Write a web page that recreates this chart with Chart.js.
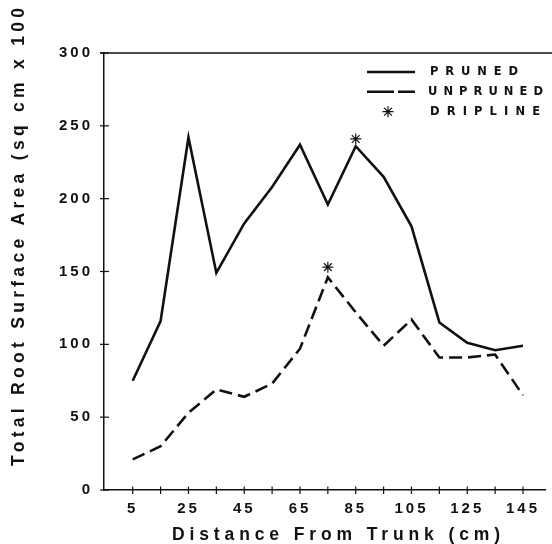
<!DOCTYPE html>
<html>
<head>
<meta charset="utf-8">
<script src="https://cdn.jsdelivr.net/npm/chart.js@4.4.1/dist/chart.umd.min.js"></script>
<style>
  html, body { margin: 0; padding: 0; background: #ffffff; }
  #wrap { position: relative; width: 552px; height: 544px; }
  canvas { display: block; }
</style>
</head>
<body>
<div id="wrap"><canvas id="c" width="552" height="544"></canvas></div>
<script>
// ---- data ----
const distances = [5, 15, 25, 35, 45, 55, 65, 75, 85, 95, 105, 115, 125, 135, 145];
const pruned    = [75, 116, 242, 149, 183, 208, 237, 196, 236, 215, 181, 115, 101, 96, 99];
const unpruned  = [21, 30, 53, 69, 64, 73, 97, 146, 122, 99, 117, 91, 91, 93, 65];
const driplineX = [85, 75];
const driplineY = [241, 153];
const xTickValues = [5, 15, 25, 35, 45, 55, 65, 75, 85, 95, 105, 115, 125, 135, 145];
const xLabelValues = [5, 25, 45, 65, 85, 105, 125, 145];
const yTickValues = [0, 50, 100, 150, 200, 250, 300];
const legendLabels = ['PRUNED', 'UNPRUNED', 'DRIPLINE'];
const xTitle = 'Distance From Trunk (cm)';
const yTitle = 'Total Root Surface Area (sq cm x 100';

const INK = '#111111';
const FONT = '"Liberation Sans", Arial, Helvetica, sans-serif';
const LFONT = '"DejaVu Sans", Verdana, sans-serif';

function spacedText(ctx, text, left, cy, targetW) {
  ctx.letterSpacing = '0px';
  const w = ctx.measureText(text).width;
  const s = (targetW - w) / (text.length - 1);
  ctx.letterSpacing = s + 'px';
  ctx.textAlign = 'left';
  ctx.fillText(text, left, cy);
  ctx.letterSpacing = '0px';
}

const decorPlugin = {
  id: 'decor',
  beforeUpdate(chart) { chart.ctx.letterSpacing = '3px'; },
  beforeDraw(chart) {
    const ctx = chart.ctx;
    ctx.save();
    ctx.fillStyle = '#ffffff';
    ctx.fillRect(0, 0, chart.width, chart.height);
    ctx.restore();
    ctx.letterSpacing = '3px';
  },
  afterDraw(chart) {
    const ctx = chart.ctx;
    const xs = chart.scales.x, ys = chart.scales.y;
    const area = chart.chartArea;
    ctx.save();
    ctx.letterSpacing = '0px';
    ctx.strokeStyle = INK;
    ctx.lineWidth = 1.5;
    // top frame line
    ctx.beginPath();
    ctx.moveTo(area.left - 4, ys.getPixelForValue(300));
    ctx.lineTo(chart.width, ys.getPixelForValue(300));
    ctx.stroke();
    // y ticks crossing axis
    ctx.lineWidth = 1.2;
    yTickValues.forEach(v => {
      const py = ys.getPixelForValue(v);
      ctx.beginPath();
      ctx.moveTo(area.left - 4, py);
      ctx.lineTo(area.left + 5, py);
      ctx.stroke();
    });
    // x ticks crossing axis
    xTickValues.forEach(v => {
      const px = xs.getPixelForValue(v);
      ctx.beginPath();
      ctx.moveTo(px, area.bottom - 3.5);
      ctx.lineTo(px, area.bottom + 4);
      ctx.stroke();
    });

    // axis titles
    ctx.fillStyle = INK;
    ctx.textBaseline = 'middle';
    ctx.font = 'bold 17.5px ' + FONT;
    spacedText(ctx, xTitle, 172, 535.5, 328);
    ctx.save();
    ctx.translate(19, 466);
    ctx.rotate(-Math.PI / 2);
    spacedText(ctx, yTitle, 0, 0, 458);
    ctx.restore();

    // legend
    const rows = [72, 91.7, 111.7];
    ctx.lineWidth = 2.5;
    ctx.beginPath();
    ctx.moveTo(367, rows[0]); ctx.lineTo(415, rows[0]);
    ctx.stroke();
    ctx.setLineDash([27, 4]);
    ctx.beginPath();
    ctx.moveTo(367, rows[1]); ctx.lineTo(415, rows[1]);
    ctx.stroke();
    ctx.setLineDash([]);
    ctx.lineWidth = 1.2;
    Chart.helpers.drawPoint(ctx, { pointStyle: 'star', radius: 5.5, rotation: 0, borderWidth: 1.2 }, 388, rows[2]);
    ctx.font = 'bold 11.5px ' + LFONT;
    const lLeft = [430, 428, 430];
    const lWidth = [88, 115, 110];
    legendLabels.forEach((t, i) => spacedText(ctx, t, lLeft[i], rows[i] + 0.5, lWidth[i]));
    ctx.restore();
  }
};

const ctx = document.getElementById('c').getContext('2d');
new Chart(ctx, {
  type: 'line',
  data: {
    datasets: [
      {
        label: 'PRUNED',
        data: distances.map((d, i) => ({ x: d, y: pruned[i] })),
        borderColor: INK, borderWidth: 2.6, pointRadius: 0, tension: 0,
        borderJoinStyle: 'miter', fill: false
      },
      {
        label: 'UNPRUNED',
        data: distances.map((d, i) => ({ x: d, y: unpruned[i] })),
        borderColor: INK, borderWidth: 2.6, pointRadius: 0, tension: 0,
        borderDash: [13, 6], fill: false
      },
      {
        label: 'DRIPLINE',
        type: 'scatter',
        data: driplineX.map((d, i) => ({ x: d, y: driplineY[i] })),
        showLine: false,
        pointStyle: 'star', pointRadius: 5.5, borderColor: INK, borderWidth: 1.2,
        backgroundColor: INK
      }
    ]
  },
  options: {
    responsive: false,
    devicePixelRatio: 1,
    animation: false,
    layout: { padding: { top: 53, right: 0, left: 0, bottom: 0 } },
    plugins: { legend: { display: false }, tooltip: { enabled: false } },
    scales: {
      x: {
        type: 'linear', min: -5.3, max: 153,
        offset: false,
        grid: { display: false, drawTicks: false, offset: false },
        border: { display: true, color: INK, width: 1.5 },
        afterBuildTicks(scale) { scale.ticks = xTickValues.map(v => ({ value: v })); },
        afterFit(scale) { scale.height = 54; scale.paddingLeft = 0; scale.paddingRight = 0; },
        ticks: {
          autoSkip: false, maxRotation: 0, minRotation: 0, padding: 0, color: INK,
          font: { family: FONT, size: 15, weight: 'bold', lineHeight: 2.53 },
          callback: v => xLabelValues.includes(v) ? String(v) : ''
        }
      },
      y: {
        type: 'linear', min: 0, max: 300,
        grid: { display: false, drawTicks: false },
        border: { display: true, color: INK, width: 1.5 },
        afterBuildTicks(scale) { scale.ticks = yTickValues.map(v => ({ value: v })); },
        afterFit(scale) { scale.width = 104; scale.paddingTop = 0; scale.paddingBottom = 0; },
        ticks: {
          padding: 11, color: INK,
          font: { family: FONT, size: 15, weight: 'bold' }
        }
      }
    }
  },
  plugins: [decorPlugin]
});
</script>
</body>
</html>
